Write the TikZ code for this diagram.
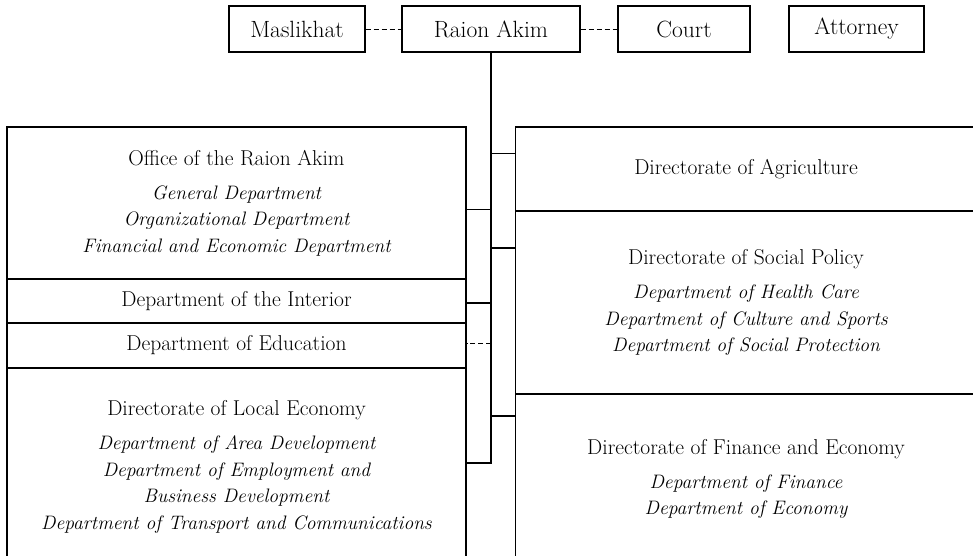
\documentclass[tikz,border=0pt]{standalone}
\usepackage{fontspec}
\newcommand\subunit[1]{{\fontsize{19.5}{26.5}\selectfont\itshape #1}}
\begin{document}
\begin{tikzpicture}[x=1pt,y=-1pt,line width=1.1pt,
  topbox/.style={draw,inner sep=0pt,minimum height=46pt,font=\fontsize{23.5}{26}\selectfont},
  unitbox/.style={draw,inner sep=0pt,align=center,font=\fontsize{21.5}{26.5}\selectfont},
  leftbox/.style={unitbox,minimum width=459pt},
  rightbox/.style={unitbox,minimum width=461pt},
  dashlink/.style={dash pattern=on 5pt off 3pt,line width=0.9pt}]
\useasboundingbox (0,0) rectangle (973,555);
\clip (0,0) rectangle (973,555);
% top row
\node[topbox,minimum width=136pt] (masl) at (297,29) {Maslikhat};
\node[topbox,minimum width=178pt] (akim) at (491,29) {Raion Akim};
\node[topbox,minimum width=132pt] (court) at (684,29) {Court};
\node[topbox,minimum width=135pt] (att) at (856.5,29) {Attorney};
\draw[dashlink] (masl.east) -- (akim.west);
\draw[dashlink] (akim.east) -- (court.west);
% left column
\node[leftbox,minimum height=152pt] (office) at (236.5,203) {Office of the Raion Akim\\[7.5pt]
  \subunit{General Department}\\ \subunit{Organizational Department}\\ \subunit{Financial and Economic Department}};
\node[leftbox,minimum height=44pt] (interior) at (236.5,301) {Department of the Interior};
\node[leftbox,minimum height=45pt] (educ) at (236.5,345.5) {Department of Education};
\node[leftbox,minimum height=198pt] (local) at (236.5,467) {Directorate of Local Economy\\[7.5pt]
  \subunit{Department of Area Development}\\ \subunit{Department of Employment and}\\
  \subunit{Business Development}\\ \subunit{Department of Transport and Communications}};
% right column
\node[rightbox,minimum height=84pt] (agri) at (746,169) {Directorate of Agriculture};
\node[rightbox,minimum height=183pt] (social) at (746,302.5) {Directorate of Social Policy\\[7.5pt]
  \subunit{Department of Health Care}\\ \subunit{Department of Culture and Sports}\\ \subunit{Department of Social Protection}};
\node[rightbox,minimum height=170pt] (fin) at (746,479) {Directorate of Finance and Economy\\[7.5pt]
  \subunit{Department of Finance}\\ \subunit{Department of Economy}};
% trunk junctions
\coordinate (jAg) at (491,153.5);
\coordinate (jOf) at (491,209.5);
\coordinate (jSo) at (491,248);
\coordinate (jIn) at (491,303);
\coordinate (jEd) at (491,343);
\coordinate (jFi) at (491,416);
\coordinate (jLo) at (491,463);
\draw (akim.south) -- (jLo) -- (local.east |- jLo);
\draw (jAg) -- (agri.west |- jAg);
\draw (jOf) -- (office.east |- jOf);
\draw (jSo) -- (social.west |- jSo);
\draw (jIn) -- (interior.east |- jIn);
\draw[dashlink] (jEd) -- (educ.east |- jEd);
\draw (jFi) -- (fin.west |- jFi);
\end{tikzpicture}
\end{document}
